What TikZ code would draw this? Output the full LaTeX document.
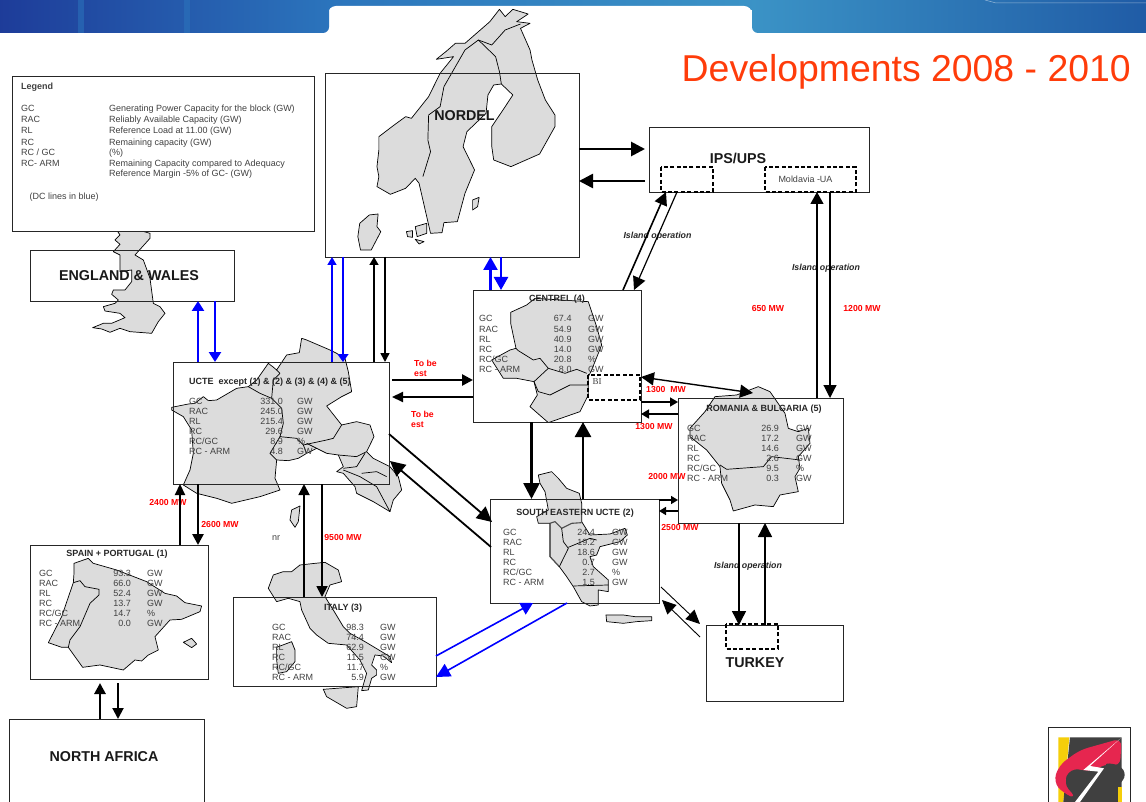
\documentclass[tikz,border=0pt]{standalone}
\usepackage{fontspec}
\setmainfont{Liberation Sans}
\newfontfamily\bifont{Liberation Serif}
\usetikzlibrary{arrows.meta,calc}
\definecolor{titlered}{HTML}{FF3C0A}
\definecolor{rowgray}{HTML}{404040}
\definecolor{mapgray}{HTML}{DCDCDC}
\definecolor{flowblue}{HTML}{0000FF}
\definecolor{bannerdark}{HTML}{1D3A98}
\definecolor{bannermid}{HTML}{2B74BC}
\definecolor{bannerlight}{HTML}{3B93C6}
\definecolor{bannerend}{HTML}{1F5AA5}
\definecolor{logored}{HTML}{E6264F}
\definecolor{logoyellow}{HTML}{F5CE0A}

% one row of a block table: label, right-aligned value, unit
\newcommand\datarows[6]{%
  \foreach \a/\b/\c [count=\n] in {#6} {
    \node[rowtext, anchor=base west] (#1-l\n) at (#2,{#5+(\n-1)*10.1}) {\a};
    \node[rowtext, anchor=base east] (#1-v\n) at (#3,{#5+(\n-1)*10.1}) {\b};
    \node[rowtext, anchor=base west] (#1-u\n) at (#4,{#5+(\n-1)*10.1}) {\c};
  }}

\begin{document}
\begin{tikzpicture}[
    x=1pt, y=-1pt,
    block/.style={draw=black!85, line width=0.9pt, inner sep=0pt, outer sep=0pt, anchor=north west},
    region/.style={font=\fontsize{14.3}{16}\selectfont\bfseries, inner sep=0pt, text=black!90},
    boxhead/.style={font=\fontsize{9}{11}\selectfont\bfseries, inner sep=0pt, anchor=base, text=black!85},
    rowtext/.style={font=\fontsize{9}{11}\selectfont, inner sep=0pt, text=rowgray},
    mw/.style={font=\fontsize{8.7}{10}\selectfont\bfseries, inner sep=0pt, text=red, align=left},
    islandop/.style={font=\fontsize{8.8}{10}\selectfont\bfseries\itshape, inner sep=0pt, text=black!85},
    land/.style={draw=black, fill=mapgray, line width=0.7pt, line join=round},
    border/.style={draw=black, line width=0.7pt, line join=round},
    zone/.style={draw=black, line width=1.4pt, dash pattern=on 4pt off 2.4pt},
    zoomed/.style 2 args={shift={(#1,#2)}, x=0.3333pt, y=-0.3333pt},
    flow/.style n args={3}{line width=#1, -{Triangle[length=#2,width=#3]}},
  ]
  \useasboundingbox (0,0) rectangle (1146,802);
  \clip (0,0) rectangle (1146,802);

  % banner
  \shade[left color=bannermid, right color=bannerlight] (320,0) rectangle (760,10);
  \fill[white, rounded corners=8pt] (328,40) -- (328,6) -- (752,6) -- (752,40) -- cycle;
  \shade[left color=bannerdark, right color=bannermid, rounded corners=6pt] (-12,-12) rectangle (329,33);
  \shade[left color=bannerlight, right color=bannerend, rounded corners=6pt] (752,-12) rectangle (1158,33);
  \fill[bannermid, opacity=0.55] (78,0) rectangle (84,33);
  \fill[bannermid, opacity=0.55] (184,0) rectangle (190,33);
  \draw[white, opacity=0.5, line width=0.5pt] (985,0) -- (996,3) -- (1146,3);

  % maps, behind the blocks
  \begin{scope}[shift={(0,0)}, x=0.3827pt, y=-0.3333pt]
    \draw[land] (1140,178) -- (1165,155) -- (1190,130) -- (1215,130) -- (1250,95) -- (1280,65) -- (1305,28)
      -- (1320,50) -- (1340,28) -- (1380,42) -- (1350,65) -- (1385,70) -- (1360,85) -- (1385,150) -- (1390,180)
      -- (1405,240) -- (1425,300) -- (1450,345) -- (1450,380) -- (1410,462) -- (1335,500) -- (1290,480)
      -- (1285,440) -- (1285,380) -- (1320,320) -- (1340,285) -- (1310,252) -- (1290,255) -- (1275,285)
      -- (1270,340) -- (1220,395) -- (1210,440) -- (1240,510) -- (1215,580) -- (1195,665) -- (1160,668)
      -- (1155,698) -- (1125,700) -- (1095,550) -- (1085,535) -- (1060,565) -- (1020,583) -- (985,560)
      -- (990,530) -- (985,500) -- (990,450) -- (990,410) -- (1030,375) -- (1060,350) -- (1075,355)
      -- (1120,290) -- (1150,220) -- (1185,170) -- cycle;
    \draw[border] (1105,530) -- (1125,455) -- (1118,420) -- (1120,345) -- (1150,320) -- (1160,260) -- (1185,210)
      -- (1215,150) -- (1250,120) -- (1285,135) -- (1320,90) -- (1360,72);
    \draw[border] (1250,120) -- (1295,170) -- (1305,215) -- (1310,252);
    \draw[land] (965,645) -- (988,642) -- (985,680) -- (995,695) -- (970,750) -- (942,750) -- (935,710) -- (940,670) -- cycle;
    \draw[land] (1085,680) -- (1115,670) -- (1115,700) -- (1090,710) -- cycle;
    \draw[land] (1062,695) -- (1078,692) -- (1078,712) -- (1065,710) -- cycle;
    \draw[land] (1085,718) -- (1108,725) -- (1095,732) -- cycle;
    \draw[land] (1235,600) -- (1252,592) -- (1248,620) -- (1235,630) -- cycle;
  \end{scope}
  \begin{scope}[zoomed={70}{225}]
    \draw[land] (150,30) -- (135,45) -- (150,58) -- (130,80) -- (150,90) -- (150,130) -- (150,140) -- (185,135)
      -- (185,170) -- (165,195) -- (130,195) -- (125,208) -- (145,225) -- (135,235) -- (100,245) -- (105,258)
      -- (150,265) -- (165,278) -- (125,295) -- (100,295) -- (68,308) -- (95,312) -- (120,322) -- (150,310)
      -- (180,320) -- (245,325) -- (265,290) -- (285,265) -- (270,245) -- (250,235) -- (240,160) -- (220,105)
      -- (195,90) -- (240,40) -- (240,25) -- (205,15) -- (140,15) -- cycle;
  \end{scope}
  \begin{scope}[zoomed={160}{330}]
    \draw[land] (35,232) -- (85,222) -- (105,220) -- (130,200) -- (145,212) -- (170,210) -- (230,175) -- (265,170)
      -- (290,150) -- (325,100) -- (338,110) -- (350,120) -- (380,75) -- (418,68) -- (425,25) -- (440,30)
      -- (475,45) -- (510,60) -- (530,70) -- (555,85) -- (565,125) -- (575,185) -- (545,200) -- (500,228)
      -- (545,285) -- (590,275) -- (630,285) -- (642,320) -- (620,365) -- (640,385) -- (690,410) -- (715,440)
      -- (725,480) -- (700,510) -- (690,545) -- (640,515) -- (590,490) -- (585,470) -- (550,430) -- (530,425)
      -- (550,410) -- (535,375) -- (500,370) -- (470,355) -- (440,370) -- (415,385) -- (385,392) -- (350,390)
      -- (345,445) -- (360,480) -- (300,500) -- (215,520) -- (170,505) -- (110,490) -- (70,465) -- (90,420)
      -- (100,370) -- (95,300) -- (70,260) -- (35,240) -- cycle;
    \draw[border] (265,170) -- (300,190) -- (335,205) -- (365,235) -- (370,280) -- (360,320) -- (410,325)
      -- (430,345) -- (500,330) -- (520,325) -- (545,285);
    \draw[border] (335,205) -- (340,150) -- (360,130) -- (350,120);
    \draw[border] (360,320) -- (330,370) -- (350,390);
    \draw[border] (430,345) -- (440,370);
    \draw[border] (440,340) -- (470,355);
    \draw[border] (535,375) -- (590,380) -- (620,365);
    \draw[border] (550,415) -- (590,410) -- (615,370);
    \draw[border] (550,420) -- (600,440) -- (650,470) -- (690,545);
    \draw[border] (605,430) -- (650,425) -- (680,440);
    \draw[land] (395,540) -- (420,528) -- (415,575) -- (405,592) -- (390,570) -- cycle;
  \end{scope}
  \begin{scope}[zoomed={0}{530}]
    \draw[land] (222,100) -- (265,85) -- (280,100) -- (350,120) -- (440,155) -- (495,190) -- (530,198) -- (555,218)
      -- (605,228) -- (600,245) -- (545,268) -- (510,270) -- (465,320) -- (475,360) -- (445,375) -- (425,393)
      -- (405,390) -- (370,420) -- (300,405) -- (248,412) -- (225,380) -- (205,352) -- (185,352) -- (145,338)
      -- (185,260) -- (220,158) -- (222,130) -- cycle;
    \draw[border] (220,158) -- (240,152) -- (255,170) -- (297,178) -- (297,195) -- (270,220) -- (240,290)
      -- (210,330) -- (205,352);
    \draw[land] (550,337) -- (575,325) -- (590,342) -- (575,353) -- cycle;
    \draw[land] (820,135) -- (850,125) -- (875,125) -- (900,105) -- (945,100) -- (975,97) -- (1015,120) -- (1025,155)
      -- (990,165) -- (975,200) -- (1000,240) -- (1030,290) -- (1050,310) -- (1095,335) -- (1170,380) -- (1175,398)
      -- (1150,378) -- (1125,375) -- (1115,405) -- (1130,420) -- (1130,435) -- (1115,445) -- (1105,480)
      -- (1085,482) -- (1100,430) -- (1080,390) -- (1040,345) -- (985,340) -- (950,315) -- (930,295) -- (905,240)
      -- (900,215) -- (865,205) -- (830,215) -- (805,175) -- cycle;
    \draw[land] (970,478) -- (1075,470) -- (1070,530) -- (1040,535) -- (980,500) -- cycle;
    \draw[land] (830,352) -- (875,335) -- (885,360) -- (885,395) -- (860,425) -- (835,430) -- (830,390) -- cycle;
  \end{scope}
  \begin{scope}[zoomed={460}{280}]
    \draw[land] (152,97) -- (200,75) -- (225,55) -- (385,65) -- (410,140) -- (425,195) -- (395,270) -- (385,290)
      -- (385,345) -- (360,395) -- (265,428) -- (210,380) -- (232,345) -- (222,305) -- (170,295) -- (130,295)
      -- (95,240) -- (150,210) -- (168,205) -- (152,130) -- cycle;
    \draw[border] (168,205) -- (175,212) -- (220,240) -- (240,235) -- (265,265) -- (315,280) -- (350,268) -- (380,280);
    \draw[border] (265,265) -- (222,305);
    \draw[border] (222,305) -- (235,335) -- (270,345) -- (330,315) -- (385,315);
    \draw[land] (735,395) -- (765,350) -- (830,345) -- (895,320) -- (930,335) -- (975,400) -- (985,445) -- (1015,455)
      -- (1045,445) -- (1050,490) -- (1015,530) -- (1020,565) -- (1005,590) -- (1015,635) -- (960,645) -- (940,680)
      -- (885,675) -- (820,693) -- (810,660) -- (785,610) -- (780,560) -- (740,510) -- (690,470) -- (690,445) -- cycle;
    \draw[border] (780,555) -- (800,568) -- (910,560) -- (935,530) -- (1020,540);
  \end{scope}
  \begin{scope}[zoomed={510}{460}]
    \draw[land] (85,45) -- (125,35) -- (145,55) -- (170,85) -- (208,100) -- (215,130) -- (215,185) -- (240,225)
      -- (300,222) -- (345,205) -- (352,225) -- (330,245) -- (270,260) -- (260,285) -- (240,290) -- (250,320)
      -- (295,360) -- (295,395) -- (265,390) -- (265,435) -- (240,438) -- (215,425) -- (190,380) -- (170,350)
      -- (148,320) -- (120,290) -- (120,190) -- (85,190) -- (80,170) -- (115,150) -- (105,95) -- (90,70) -- cycle;
    \draw[border, line width=1.1pt, draw=black!70] (120,190) -- (135,185) -- (155,205) -- (185,190) -- (215,188);
    \draw[border, line width=1.1pt, draw=black!70] (120,190) -- (120,290) -- (148,320);
    \draw[border] (155,205) -- (160,245) -- (175,265) -- (148,320);
    \draw[border] (175,262) -- (240,235) -- (260,240);
    \draw[border] (190,378) -- (295,375);
    \draw[land] (288,465) -- (340,465) -- (375,470) -- (425,470) -- (425,482) -- (380,485) -- (340,490) -- (290,485) -- cycle;
  \end{scope}

  % blocks
  \node[block, minimum width=254pt, minimum height=184pt] (nordel) at (325,73) {};
  \node[block, minimum width=220pt, minimum height=65pt] (ipsups) at (649,127) {};
  \node[block, minimum width=204pt, minimum height=51pt] (england) at (30,250) {};
  \node[block, minimum width=216pt, minimum height=122pt] (ucte) at (173,362) {};
  \node[block, minimum width=168pt, minimum height=132pt] (centrel) at (473,290) {};
  \node[block, minimum width=165pt, minimum height=125pt] (rombul) at (678,398) {};
  \node[block, minimum width=169pt, minimum height=104pt] (seucte) at (490,499) {};
  \node[block, minimum width=178pt, minimum height=134pt] (spain) at (30,545) {};
  \node[block, minimum width=203pt, minimum height=89pt] (italy) at (233,597) {};
  \node[block, minimum width=137pt, minimum height=76pt] (turkey) at (706,625) {};
  \node[block, minimum width=195pt, minimum height=100pt] (nafrica) at (9,719) {};
  \node[block, fill=white, minimum width=302pt, minimum height=155pt] (legend) at (12,76) {};

  % dashed island zones
  \node[block, draw=none, minimum width=52pt, minimum height=25pt] (zoneips) at (661,167) {};
  \draw[zone] (zoneips.north west) rectangle (zoneips.south east);
  \node[block, draw=none, minimum width=91pt, minimum height=25pt] (zonemd) at (765,167) {};
  \draw[zone] (zonemd.north west) rectangle (zonemd.south east);
  \node[block, draw=none, minimum width=52pt, minimum height=25pt] (zonebi) at (588,375) {};
  \draw[zone] (zonebi.north west) rectangle (zonebi.south east);
  \node[block, draw=none, minimum width=52pt, minimum height=25pt] (zonetr) at (726,624) {};
  \draw[zone] (zonetr.north west) rectangle (zonetr.south east);

  % title and block names
  \node[inner sep=0pt, anchor=base east, text=titlered, font=\fontsize{37.4}{40}\selectfont] (title) at (1131,82) {Developments 2008 - 2010};
  \node[region] (nordelname) at (464.5,116) {NORDEL};
  \node[region] (englandname) at (129,276) {ENGLAND \& WALES};
  \node[region] (ipsname) at (738,158) {IPS/UPS};
  \node[region] (turkeyname) at (755,663) {TURKEY};
  \node[region] (africaname) at (104,757) {NORTH AFRICA};

  % legend
  \node[rowtext, anchor=base west, font=\fontsize{9}{11}\selectfont\bfseries] (legendhead) at (21,90) {Legend};
  \foreach \y/\k/\t [count=\n] in {112/GC/Generating Power Capacity for the block (GW),
      123/RAC/Reliably Available Capacity (GW), 134/RL/Reference Load at 11.00 (GW),
      146/RC/Remaining capacity (GW), 156/{RC / GC}/(\%),
      167/RC- ARM/Remaining Capacity compared to Adequacy} {
    \node[rowtext, anchor=base west] (legkey\n) at (21,\y) {\k};
    \node[rowtext, anchor=base west] (legtext\n) at (109,\y) {\t};
  }
  \node[rowtext, anchor=base west] (legtext7) at (109,177) {Reference Margin -5\% of GC- (GW)};
  \node[rowtext, anchor=base west] (legdc) at (29.5,200) {(DC lines in blue)};

  % tables
  \node[boxhead, anchor=base west] (uctehead) at (189,384) {UCTE\ \ except (1) \& (2) \& (3) \& (4) \& (5)};
  \datarows{ucte}{189}{283}{297}{404}{GC/331.0/GW, RAC/245.0/GW, RL/215.4/GW, RC/29.6/GW, {RC/GC}/8.9/\%, RC - ARM/4.8/GW}
  \node[boxhead] (centrelhead) at (557,302) {CENTREL (4)};
  \datarows{centrel}{479}{571.7}{588}{322}{GC/67.4/GW, RAC/54.9/GW, RL/40.9/GW, RC/14.0/GW, {RC/GC}/20.8/\%, RC - ARM/8.0/GW}
  \node[boxhead] (rombulhead) at (764,411) {ROMANIA \& BULGARIA (5)};
  \datarows{rombul}{687}{779}{796}{431}{GC/26.9/GW, RAC/17.2/GW, RL/14.6/GW, RC/2.6/GW, {RC/GC}/9.5/\%, RC - ARM/0.3/GW}
  \node[boxhead] (seuctehead) at (575,515) {SOUTH EASTERN UCTE (2)};
  \datarows{seucte}{503}{595}{612}{535}{GC/24.4/GW, RAC/19.2/GW, RL/18.6/GW, RC/0.7/GW, {RC/GC}/2.7/\%, RC - ARM/1.5/GW}
  \node[boxhead] (spainhead) at (117,556) {SPAIN + PORTUGAL (1)};
  \datarows{spain}{39}{131}{147}{576}{GC/93.3/GW, RAC/66.0/GW, RL/52.4/GW, RC/13.7/GW, {RC/GC}/14.7/\%, RC - ARM/0.0/GW}
  \node[boxhead] (italyhead) at (343,610) {ITALY (3)};
  \datarows{italy}{272}{364}{380}{630}{GC/98.3/GW, RAC/74.4/GW, RL/62.9/GW, RC/11.5/GW, {RC/GC}/11.7/\%, RC - ARM/5.9/GW}

  \node[rowtext] (moldavia) at (805.5,179) {Moldavia -UA};
  \node[rowtext, anchor=center, font=\fontsize{9}{10}\bifont] (binode) at (597,382) {BI};
  \node[rowtext] (nrnode) at (276,538) {nr};

  % labels on the links
  \node[mw, anchor=west] (tobe1) at (414,368) {To be\\est};
  \node[mw, anchor=west] (tobe2) at (411,419) {To be\\est};
  \node[mw] (mw2400) at (168,503) {2400 MW};
  \node[mw] (mw2600) at (220,525) {2600 MW};
  \node[mw] (mw9500) at (343,538) {9500 MW};
  \node[mw] (mw650) at (768,309) {650 MW};
  \node[mw] (mw1200) at (862,309) {1200 MW};
  \node[mw] (mw1300a) at (666,390) {1300\ \ MW};
  \node[mw] (mw1300b) at (654,427) {1300 MW};
  \node[mw] (mw2000) at (667,477) {2000 MW};
  \node[mw] (mw2500) at (680,528) {2500 MW};
  \node[islandop] (island1) at (657.5,236) {Island operation};
  \node[islandop] (island2) at (826,268) {Island operation};
  \node[islandop] (island3) at (748,566) {Island operation};

  % DC links
  \begin{scope}[flowblue]
    \draw[flow={2.6pt}{10pt}{12pt}, draw=flowblue] (198,0 |- ucte.north) -- (198,0 |- england.south);
    \draw[flow={2.6pt}{10pt}{12pt}, draw=flowblue] (215,0 |- england.south) -- (215,0 |- ucte.north);
    \draw[flow={1.6pt}{8pt}{9pt}, draw=flowblue] (332,0 |- ucte.north) -- (332,0 |- nordel.south);
    \draw[flow={1.6pt}{8pt}{11pt}, draw=flowblue] (343,0 |- nordel.south) -- (343,0 |- ucte.north);
    \draw[flow={2.4pt}{13pt}{14pt}, draw=flowblue] (490.5,0 |- centrel.north) -- (490.5,0 |- nordel.south);
    \draw[flow={2.4pt}{13pt}{14pt}, draw=flowblue] (501,0 |- nordel.south) -- (501,0 |- centrel.north);
    \draw[flow={1.6pt}{12pt}{13pt}, draw=flowblue] (italy.east |- 0,656) -- (533,0 |- seucte.south);
    \draw[flow={1.6pt}{14pt}{14pt}, draw=flowblue] (567,0 |- seucte.south) -- (italy.east |- 0,677);
  \end{scope}

  % AC links
  \draw[flow={1.6pt}{8pt}{9pt}] (374,0 |- ucte.north) -- (374,0 |- nordel.south);
  \draw[flow={1.6pt}{9pt}{9pt}] (385,0 |- nordel.south) -- (385,0 |- ucte.north);
  \draw[flow={2.6pt}{11pt}{11pt}] ([xshift=3pt]ucte.east |- 0,380) -- (centrel.west |- 0,380);
  \draw[flow={2.2pt}{11pt}{10pt}] (centrel.west |- 0,397) -- ([xshift=3pt]ucte.east |- 0,397);
  \draw[flow={1.8pt}{15pt}{15pt}] (ucte.east |- 0,434) -- ([xshift=2pt]seucte.west |- 0,522);
  \draw[flow={1.8pt}{15pt}{15pt}] ([xshift=1pt]seucte.west |- 0,547) -- ([xshift=1pt]ucte.east |- 0,461);
  \draw[flow={2.6pt}{11pt}{11pt}] (198,0 |- ucte.south) -- (198,0 |- spain.north);
  \draw[flow={2.2pt}{11pt}{10pt}] (180,0 |- spain.north) -- (180,0 |- ucte.south);
  \draw[flow={1.8pt}{11pt}{11pt}] (304,0 |- italy.north) -- (304,0 |- ucte.south);
  \draw[flow={1.8pt}{11pt}{11pt}] (322,0 |- ucte.south) -- (322,0 |- italy.north);
  \draw[flow={2.8pt}{11pt}{11pt}] (100,0 |- nafrica.north) -- ([yshift=-4pt]100,0 |- spain.south);
  \draw[flow={2pt}{11pt}{11pt}] ([yshift=-4pt]118,0 |- spain.south) -- (118,0 |- nafrica.north);
  \draw[flow={2.8pt}{14pt}{14pt}] (nordel.east |- 0,149) -- ([xshift=-4pt]ipsups.west |- 0,149);
  \draw[flow={2.6pt}{14pt}{14pt}] ([xshift=-4pt]ipsups.west |- 0,181) -- (nordel.east |- 0,181);
  \draw[flow={1.6pt}{13pt}{13pt}] (623,0 |- centrel.north) -- (666,0 |- ipsups.south);
  \draw[flow={1.2pt}{13pt}{13pt}] (677,0 |- ipsups.south) -- (634,0 |- centrel.north);
  \draw[flow={1.2pt}{12pt}{13pt}] (817,0 |- rombul.north) -- (817,0 |- zonemd.south);
  \draw[flow={1.2pt}{13pt}{13pt}] (830,0 |- zonemd.south) -- (830,0 |- rombul.north);
  \draw[line width=1.4pt, {Triangle[length=13pt,width=13pt]}-{Triangle[length=13pt,width=13pt]}] (centrel.east |- 0,377) -- (753,393);
  \draw[flow={1.6pt}{8pt}{9pt}] (centrel.east |- 0,402) -- (rombul.west |- 0,402);
  \draw[flow={1.6pt}{8pt}{9pt}] (rombul.west |- 0,414) -- (centrel.east |- 0,414);
  \draw[flow={2.6pt}{16pt}{16pt}] (531.5,0 |- centrel.south) -- (531.5,0 |- seucte.north);
  \draw[flow={2.6pt}{15pt}{16pt}] (583,0 |- seucte.north) -- (583,0 |- centrel.south);
  \draw[flow={1.6pt}{7pt}{8pt}] (seucte.east |- 0,500) -- (rombul.west |- 0,500);
  \draw[flow={1.6pt}{7pt}{8pt}] (rombul.west |- 0,511) -- (seucte.east |- 0,511);
  \draw[flow={1.4pt}{14pt}{14pt}] (739,0 |- rombul.south) -- (739,0 |- turkey.north);
  \draw[flow={1.4pt}{14pt}{14pt}] (765,0 |- turkey.north) -- (765,0 |- rombul.south);
  \draw[flow={0.9pt}{14pt}{13pt}] ([xshift=2pt]seucte.east |- 0,587) -- ([xshift=-6pt]turkey.west |- 0,624);
  \draw[flow={0.9pt}{14pt}{13pt}] ([xshift=-6pt]turkey.west |- 0,637) -- ([xshift=3pt]seucte.east |- 0,600);

  % logo
  \begin{scope}[zoomed={1020}{700}]
    \draw[fill=white, draw=black!85, line width=1.2pt] (85,83) rectangle (332,400);
    \fill[logoyellow] (115,112) -- (148,112) -- (130,306) -- (115,306) -- cycle;
    \fill[black!75] (150,112) -- (305,112) -- (305,306) -- (130,306) -- cycle;
    \fill[logored, rounded corners=8pt] (305,115) -- (180,150) -- (118,195) -- (100,245) -- (130,280)
      -- (170,296) -- (130,250) -- (150,205) -- (225,215) -- (250,190) -- (300,200) -- cycle;
    \fill[black!75, rounded corners=6pt] (250,188) -- (300,195) -- (320,225) -- (290,265) -- (240,290) -- (290,235) -- cycle;
    \fill[logoyellow] (295,262) -- (305,262) -- (305,306) -- (295,306) -- cycle;
    \fill[white] (302,115) -- (190,210) -- (235,215) -- (165,306) -- (180,306) -- (252,205) -- (210,198) -- cycle;
  \end{scope}
\end{tikzpicture}
\end{document}
